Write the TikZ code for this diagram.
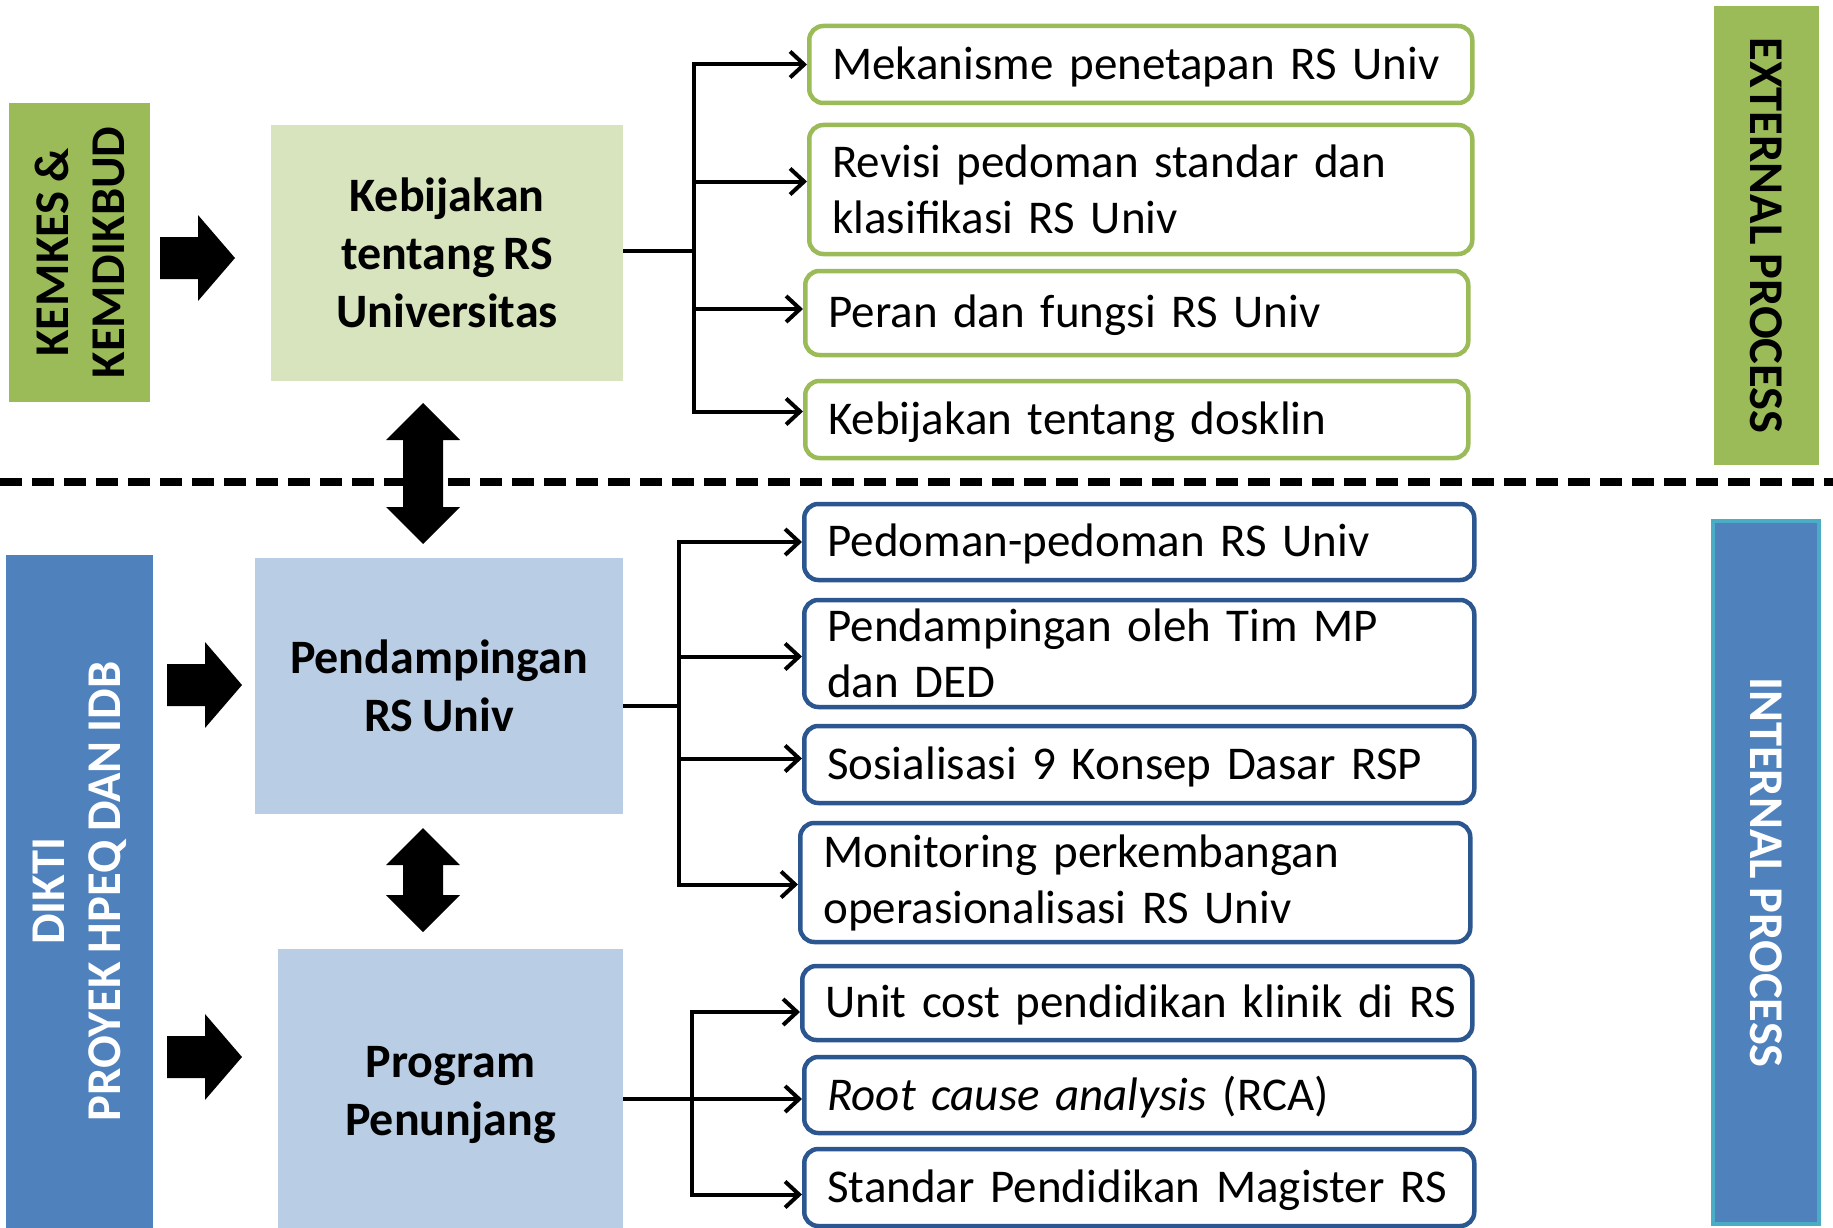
\documentclass[tikz,border=0pt]{standalone}
\usepackage{fontspec}
\setmainfont{Carlito}[WordSpace=0.8]
\usetikzlibrary{arrows.meta}
\definecolor{kgreen}{HTML}{9BBB59}
\definecolor{lgreen}{HTML}{D7E4BD}
\definecolor{dblue}{HTML}{4F81BD}
\definecolor{lblue}{HTML}{B9CDE5}
\definecolor{bline}{HTML}{2B5690}
\definecolor{tline}{HTML}{4BACC6}
\begin{document}
\begin{tikzpicture}[x=1pt, y=-1pt,
  side/.style={inner sep=0pt, align=center, font=\bfseries\fontsize{48.5}{56}\selectfont},
  main/.style={inner sep=0pt, align=center, font=\bfseries\fontsize{48}{58}\selectfont},
  item/.style={draw, line width=4.5pt, rounded corners=14pt, fill=white, anchor=west, align=left,
    inner xsep=23pt, inner ysep=0pt, font=\fontsize{47}{56}\selectfont},
  gitem/.style={item, draw=kgreen, text width=617pt},
  bitem/.style={item, draw=bline, text width=624pt},
  low/.style={text depth=3pt},
  con/.style={line width=4pt, -{Straight Barb[length=14pt,width=26pt]}},
  blk/.style={fill=black}]
  \useasboundingbox (0,0) rectangle (1833,1228);
  \draw[line width=8pt, dash pattern=on 22pt off 10pt] (0,482) -- (1833,482);
  \node[side, rotate=90, fill=kgreen, minimum width=299pt, minimum height=141pt] (kem) at (79.5,252.5) {KEMKES \&\\KEMDIKBUD};
  \node[side, rotate=90, fill=dblue, text=white, minimum width=673pt, minimum height=147pt] (dikti) at (79.5,891.5) {DIKTI\\PROYEK HPEQ DAN IDB};
  \node[side, rotate=-90, fill=kgreen, minimum width=459pt, minimum height=105pt] (ext) at (1766.5,235.5) {EXTERNAL PROCESS};
  \node[side, rotate=-90, fill=dblue, draw=tline, line width=4pt, text=white, minimum width=703pt, minimum height=106pt] (int) at (1766,872.5) {INTERNAL PROCESS};
  \node[main, fill=lgreen, minimum width=352pt, minimum height=256pt] (keb) at (447,253) {Kebijakan\\tentang RS\\Universitas};
  \node[main, fill=lblue, minimum width=368pt, minimum height=256pt] (pend) at (439,686) {Pendampingan\\RS Univ};
  \node[main, fill=lblue, minimum width=345pt, minimum height=292pt] (prog) at (450.5,1095) {Program\\Penunjang};
  \node[gitem, low, minimum height=77pt] (mek) at (807,64.5) {Mekanisme penetapan RS Univ};
  \node[gitem, minimum height=129pt] (rev) at (807,189.5) {Revisi pedoman standar dan\\klasifikasi RS Univ};
  \node[gitem, low, minimum height=84pt] (peran) at (803,313) {Peran dan fungsi RS Univ};
  \node[gitem, low, minimum height=77pt] (dosk) at (803,419.5) {Kebijakan tentang dosklin};
  \node[bitem, low, minimum height=76pt] (ped) at (802,542) {Pedoman-pedoman RS Univ};
  \node[bitem, minimum height=107pt] (tim) at (802,653.5) {Pendampingan oleh Tim MP\\dan DED};
  \node[bitem, low, minimum height=77pt] (sos) at (802,764.5) {Sosialisasi 9 Konsep Dasar RSP};
  \node[bitem, minimum height=119pt] (mon) at (798,882.5) {Monitoring perkembangan\\operasionalisasi RS Univ};
  \node[bitem, low, minimum height=74pt] (unit) at (800,1003) {\mbox{Unit cost pendidikan klinik di RS}};
  \node[bitem, low, minimum height=76pt] (rca) at (802,1095) {\textit{Root cause analysis} (RCA)};
  \node[bitem, low, minimum height=77pt] (std) at (802,1187.5) {Standar Pendidikan Magister RS};
  \coordinate (j1) at (694,251);
  \coordinate (j2) at (679,706);
  \coordinate (j3) at (692,1099);
  \draw[line width=4pt] (j1 -| keb.east) -- (j1);
  \draw[con] (j1) |- (mek.west);
  \draw[con] (j1) |- ([yshift=8pt]rev.west);
  \draw[con] (j1) |- ([yshift=4pt]peran.west);
  \draw[con] (j1) |- ([yshift=8pt]dosk.west);
  \draw[line width=4pt] (j2 -| pend.east) -- (j2);
  \draw[con] (j2) |- (ped.west);
  \draw[con] (j2) |- ([yshift=-3pt]tim.west);
  \draw[con] (j2) |- ([yshift=6pt]sos.west);
  \draw[con] (j2) |- ([yshift=-2pt]mon.west);
  \draw[con] (j3 -| prog.east) -- (j3 -| rca.west);
  \draw[con] (j3) |- ([yshift=-9pt]unit.west);
  \draw[con] (j3) |- ([yshift=-7pt]std.west);
  \foreach \x/\y in {160/258, 167/685, 167/1057}
    \fill[blk, shift={(\x,\y)}] (0,-21) -- (38,-21) -- (38,-43) -- (75,0) -- (38,43) -- (38,21) -- (0,21) -- cycle;
  \foreach \t/\b in {403/544, 828/932}
    \fill[blk] (423,\t) -- (460,\t+37) -- (443,\t+37) -- (443,\b-37) -- (460,\b-37) -- (423,\b)
      -- (386,\b-37) -- (403,\b-37) -- (403,\t+37) -- (386,\t+37) -- cycle;
\end{tikzpicture}
\end{document}
